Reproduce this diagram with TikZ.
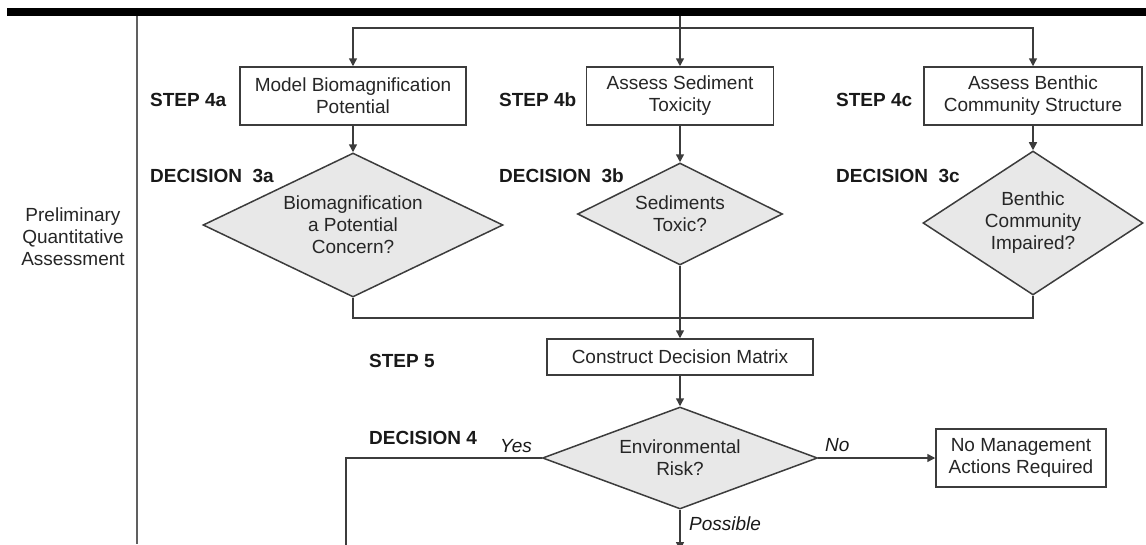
\documentclass[tikz,border=0pt]{standalone}
\usepackage{fontspec}
\setmainfont{Liberation Sans}
\usetikzlibrary{shapes.geometric,arrows.meta}
\definecolor{ln}{HTML}{3C3C3C}
\definecolor{txt}{HTML}{262626}
\definecolor{dfill}{HTML}{E8E8E8}
\begin{document}
\begin{tikzpicture}[x=1pt,y=-1pt,
  every node/.style={font=\fontsize{19}{22}\selectfont, text=txt, inner sep=0pt},
  stepbox/.style={draw=ln, line width=1.5pt, fill=white, align=center},
  decbox/.style={diamond, draw=ln, line width=1.5pt, fill=dfill, align=center},
  tag/.style={anchor=west, font=\fontsize{19}{22}\selectfont\bfseries, text=black!90},
  ans/.style={anchor=west, font=\fontsize{19}{22}\selectfont\itshape, text=black!90},
  link/.style={draw=ln, line width=1.5pt},
  arrow/.style={link, -{Triangle[length=8pt,width=8pt]}}]
\useasboundingbox (0,0) rectangle (1146,544);

% header rule and phase divider
\fill[black] (7,8) rectangle (1146,16);
\draw[line width=2pt, gray!75!black] (137,16) -- (137,544);

% phase name
\node[align=center] (phase) at (73,237) {Preliminary\\Quantitative\\Assessment};

% step boxes
\node[stepbox, minimum width=226, minimum height=58] (s4a) at (353,96) {Model Biomagnification\\Potential};
\node[stepbox, minimum width=187, minimum height=58] (s4b) at (680,96) {Assess Sediment\\Toxicity};
\node[stepbox, minimum width=218, minimum height=58] (s4c) at (1033,96) {Assess Benthic\\Community Structure};
\node[stepbox, minimum width=266, minimum height=36] (s5) at (680,357) {Construct Decision Matrix};
\node[stepbox, minimum width=170, minimum height=58] (none) at (1021,458) {No Management\\Actions Required};

% decisions
\node[decbox, aspect=2, minimum width=300, minimum height=144] (d3a) at (353,225) {Biomagnification\\a Potential\\Concern?};
\node[decbox, aspect=2, minimum width=205, minimum height=102] (d3b) at (680,214) {Sediments\\Toxic?};
\node[decbox, aspect=1.5, minimum width=220, minimum height=144] (d3c) at (1033,223) {Benthic\\Community\\Impaired?};
\node[decbox, aspect=2.7, minimum width=275, minimum height=102] (d4) at (680,458) {Environmental\\Risk?};

% step labels
\node[tag] (t4a) at (150,100) {STEP 4a};
\node[tag] (t4b) at (499,100) {STEP 4b};
\node[tag] (t4c) at (836,100) {STEP 4c};
\node[tag] (t3a) at (150,176) {DECISION\ \ 3a};
\node[tag] (t3b) at (499,176) {DECISION\ \ 3b};
\node[tag] (t3c) at (836,176) {DECISION\ \ 3c};
\node[tag] (t5) at (369,361) {STEP 5};
\node[tag] (t4) at (369,438) {DECISION 4};

% branch labels
\node[ans] (yes) at (500,446) {Yes};
\node[ans] (no) at (825,445) {No};
\node[ans] (poss) at (689,524) {Possible};

% connector end points
\coordinate (topin) at (680,16);
\coordinate (split) at (680,28);
\coordinate (merge) at (680,318);
\coordinate (yesend) at (346,548);
\coordinate (possend) at (680,550);

% connectors
\draw[arrow] (topin) -- (s4b.north);
\draw[arrow] (split) -| (s4a.north);
\draw[arrow] (split) -| (s4c.north);
\draw[arrow] (s4a) -- (d3a);
\draw[arrow] (s4b) -- (d3b);
\draw[arrow] (s4c) -- (d3c);
\draw[link] (d3a.south) |- (merge) -| (d3c.south);
\draw[arrow] (d3b.south) -- (s5.north);
\draw[arrow] (s5) -- (d4);
\draw[link] (d4.west) -| (yesend);
\draw[arrow] (d4.east) -- (none.west);
\draw[arrow] (d4.south) -- (possend);
\end{tikzpicture}
\end{document}
